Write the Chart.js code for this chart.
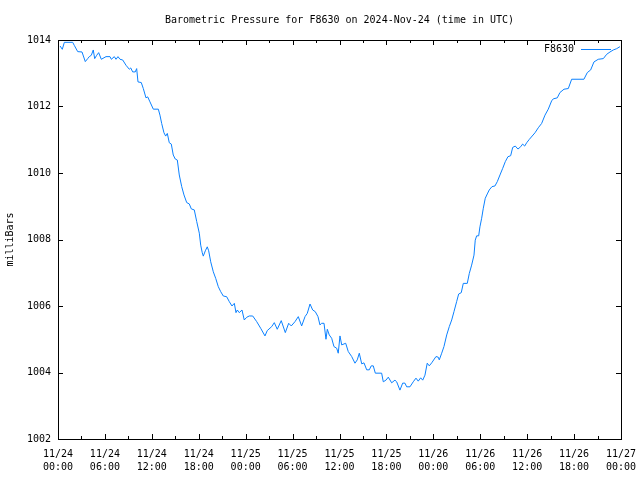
<!DOCTYPE html>
<html>
<head>
<meta charset="UTF-8">
<title>Barometric Pressure for F8630</title>
<script src="https://cdn.jsdelivr.net/npm/chart.js@4/dist/chart.umd.min.js"></script>
<style>
body { margin:0; background:#fff; }
</style>
</head>
<body>
<canvas id="chart1" width="640" height="480"></canvas>
<script>
// hours after 2024-11-24 00:00 UTC, pressure in millibars
var station = "F8630";
var hours = [
 0.26,0.55,0.81,1.88,2.08,2.52,3.07,3.49,3.80,4.00,
 4.26,4.51,4.69,4.95,5.20,5.54,6.14,6.65,6.82,7.20,
 7.42,7.67,7.93,8.27,8.70,9.12,9.30,9.55,9.88,10.06,
 10.23,10.65,10.91,11.25,11.47,11.76,12.19,12.83,13.04,13.26,
 13.55,13.77,13.98,14.23,14.49,14.74,15.00,15.26,15.51,15.82,
 16.11,16.46,16.79,17.05,17.43,17.74,18.07,18.25,18.45,18.58,
 18.84,19.09,19.27,19.53,19.86,20.17,20.50,20.81,21.14,21.57,
 21.91,22.25,22.55,22.76,22.93,23.18,23.53,23.82,24.13,24.46,
 24.90,25.41,25.92,26.47,26.76,27.33,27.66,28.04,28.55,29.07,
 29.50,29.83,30.31,30.73,31.16,31.59,31.88,32.23,32.57,32.90,
 33.25,33.50,33.72,34.02,34.27,34.44,34.69,35.00,35.29,35.64,
 35.84,36.06,36.28,36.79,37.12,37.56,37.98,38.27,38.53,38.84,
 39.13,39.48,39.81,40.06,40.32,40.58,41.39,41.60,41.94,42.24,
 42.67,43.09,43.31,43.73,44.08,44.37,44.59,45.01,45.43,45.78,
 46.07,46.38,46.64,46.93,47.22,47.48,47.79,48.34,48.63,48.76,
 49.07,49.36,49.71,50.04,50.35,50.64,50.98,51.24,51.57,51.83,
 52.34,52.60,52.90,53.20,53.36,53.54,53.80,53.96,54.18,54.39,
 54.64,54.90,55.15,55.50,55.88,56.18,56.52,56.87,57.20,57.54,
 57.89,58.15,58.48,58.82,59.17,59.42,59.68,59.94,60.27,
 61.00,61.42,61.85,62.28,62.70,63.13,63.34,63.85,64.19,64.71,
 65.26,65.69,67.26,67.69,68.12,68.54,69.09,69.74,70.17,70.59,
 71.01,71.45,71.87
];
var pressure = [
 1013.82,1013.72,1013.93,1013.93,1013.84,1013.65,1013.64,1013.35,1013.44,1013.50,
 1013.54,1013.70,1013.44,1013.54,1013.62,1013.42,1013.50,1013.50,1013.42,1013.50,
 1013.42,1013.50,1013.42,1013.40,1013.24,1013.12,1013.16,1013.04,1013.04,1013.14,
 1012.74,1012.72,1012.54,1012.26,1012.29,1012.14,1011.92,1011.92,1011.74,1011.49,
 1011.21,1011.11,1011.19,1010.91,1010.87,1010.54,1010.42,1010.39,1009.94,1009.59,
 1009.34,1009.11,1009.07,1008.92,1008.89,1008.54,1008.19,1007.83,1007.60,1007.50,
 1007.66,1007.78,1007.66,1007.33,1007.03,1006.83,1006.58,1006.43,1006.30,1006.28,
 1006.13,1006.00,1006.08,1005.80,1005.88,1005.80,1005.88,1005.58,1005.66,1005.70,
 1005.70,1005.53,1005.33,1005.10,1005.26,1005.38,1005.50,1005.30,1005.56,1005.20,
 1005.48,1005.40,1005.53,1005.68,1005.40,1005.68,1005.78,1006.06,1005.88,1005.83,
 1005.68,1005.43,1005.48,1005.48,1005.00,1005.30,1005.13,1005.03,1004.78,1004.73,
 1004.58,1005.10,1004.83,1004.88,1004.63,1004.48,1004.28,1004.38,1004.58,1004.26,
 1004.29,1004.08,1004.08,1004.20,1004.20,1003.98,1003.98,1003.72,1003.77,1003.86,
 1003.69,1003.77,1003.72,1003.47,1003.68,1003.68,1003.57,1003.57,1003.72,1003.83,
 1003.74,1003.84,1003.77,1003.92,1004.28,1004.20,1004.29,1004.48,1004.46,1004.38,
 1004.58,1004.78,1005.13,1005.38,1005.58,1005.83,1006.13,1006.36,1006.40,1006.68,
 1006.68,1006.98,1007.23,1007.53,1007.98,1008.11,1008.11,1008.38,1008.64,1008.94,
 1009.24,1009.37,1009.49,1009.59,1009.61,1009.74,1009.94,1010.14,1010.34,1010.49,
 1010.52,1010.77,1010.81,1010.72,1010.79,1010.87,1010.81,1010.91,1011.01,
 1011.21,1011.36,1011.49,1011.74,1011.92,1012.17,1012.23,1012.26,1012.42,1012.52,
 1012.54,1012.82,1012.82,1013.02,1013.10,1013.34,1013.42,1013.44,1013.57,1013.64,
 1013.70,1013.74,1013.80
];
var xTicks = [0,6,12,18,24,30,36,42,48,54,60,66,72];
var minorStep = 3;
var yTicks = [1002,1004,1006,1008,1010,1012,1014];
var title = "Barometric Pressure for " + station + " on 2024-Nov-24 (time in UTC)";

var fnt = "'DejaVu Sans Mono', monospace";
var lineColor = "#0a80ff";

function pad(n) { return (n < 10 ? "0" : "") + n; }
function xLabel(v) {
	var d = 24 + Math.floor(v / 24);
	var h = v % 24;
	return ["11/" + d, pad(h) + ":00"];
}

var pts = [];
for (var i = 0; i < hours.length; i++) pts.push({x: hours[i], y: pressure[i]});

// gnuplot-like box with inward ticks on all four sides, title over the plot, and the key
var frame = {
	id: "frame",
	afterDraw: function(chart) {
		var c = chart.ctx, a = chart.chartArea;
		var xs = chart.scales.x, ys = chart.scales.y;
		c.save();
		c.strokeStyle = "#000";
		c.lineWidth = 1;
		c.beginPath();
		for (var h = xs.min; h <= xs.max; h += minorStep) {
			var px = Math.round(xs.getPixelForValue(h)) + 0.5;
			var len = (h % 6 == 0) ? 5 : 3;
			c.moveTo(px, a.bottom); c.lineTo(px, a.bottom - len);
			c.moveTo(px, a.top); c.lineTo(px, a.top + len);
		}
		yTicks.forEach(function(v) {
			var py = Math.round(ys.getPixelForValue(v)) + 0.5;
			c.moveTo(a.left, py); c.lineTo(a.left + 5, py);
			c.moveTo(a.right, py); c.lineTo(a.right - 5, py);
		});
		c.stroke();
		c.strokeRect(Math.round(a.left) + 0.5, Math.round(a.top) + 0.5,
			Math.round(a.right - a.left), Math.round(a.bottom - a.top));

		c.font = "10px " + fnt;
		c.fillStyle = "#000";
		c.textAlign = "center";
		c.textBaseline = "middle";
		c.fillText(title, (a.left + a.right) / 2, 20);

		var ds = chart.data.datasets[0];
		c.textAlign = "right";
		c.fillText(ds.label, a.right - 47, a.top + 9);
		c.strokeStyle = ds.borderColor;
		c.beginPath();
		c.moveTo(a.right - 40, a.top + 9.5);
		c.lineTo(a.right - 10, a.top + 9.5);
		c.stroke();
		c.restore();
	}
};

new Chart("chart1", {
	type: "line",
	data: {
		datasets: [{
			label: station,
			data: pts,
			borderColor: lineColor,
			borderWidth: 1,
			pointRadius: 0,
			tension: 0,
			fill: false
		}]
	},
	options: {
		responsive: false,
		animation: false,
		devicePixelRatio: 1,
		layout: { padding: { left: 0, right: 19, top: 40, bottom: 0 } },
		plugins: {
			legend: { display: false },
			tooltip: { enabled: false },
			title: { display: false }
		},
		scales: {
			x: {
				type: "linear",
				min: 0,
				max: 72,
				grid: { display: false, drawTicks: false },
				border: { display: false },
				afterBuildTicks: function(s) { s.ticks = xTicks.map(function(v) { return {value: v}; }); },
				afterFit: function(s) { s.height = 41; s.paddingLeft = 0; s.paddingRight = 0; },
				ticks: {
					autoSkip: false,
					maxRotation: 0,
					padding: 9,
					color: "#000",
					font: { family: fnt, size: 10, lineHeight: 1.3 },
					callback: function(v) { return xLabel(v); }
				}
			},
			y: {
				min: 1002,
				max: 1014,
				grid: { display: false, drawTicks: false },
				border: { display: false },
				afterBuildTicks: function(s) { s.ticks = yTicks.map(function(v) { return {value: v}; }); },
				afterFit: function(s) { s.width = 58; s.paddingTop = 0; s.paddingBottom = 0; },
				title: {
					display: true,
					text: "milliBars",
					color: "#000",
					font: { family: fnt, size: 10 },
					padding: { top: 4, bottom: 0 }
				},
				ticks: {
					padding: 7,
					color: "#000",
					font: { family: fnt, size: 10 },
					callback: function(v) { return String(v); }
				}
			}
		}
	},
	plugins: [frame]
});
</script>
</body>
</html>
